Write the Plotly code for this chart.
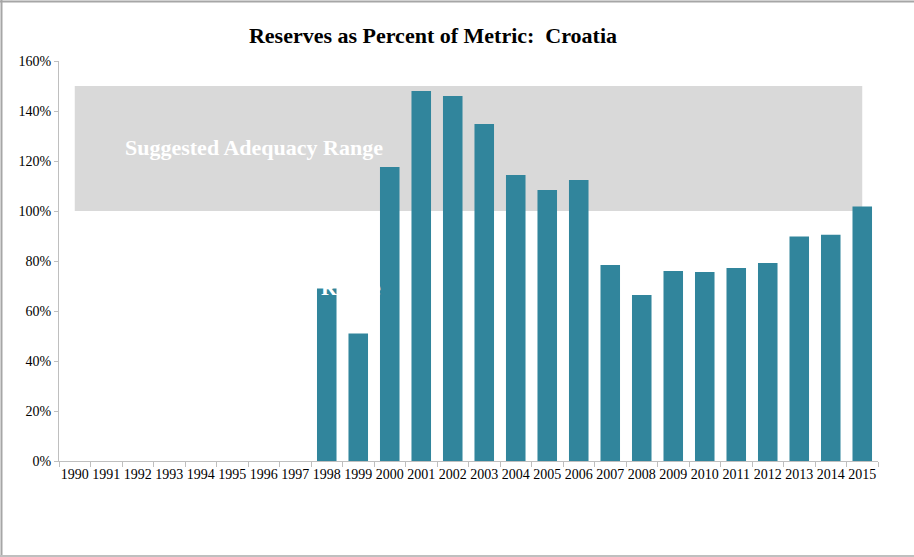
import plotly.graph_objects as go

years = [str(y) for y in range(1990, 2016)]
values = [None]*8 + [69, 51, 117.6, 148, 146, 134.8, 114.4, 108.4, 112.4,
                      78.4, 66.4, 76, 75.6, 77.2, 79.2, 89.8, 90.5, 101.8]
band_low = [100]*26
band_high = [150]*26
yticks = [0, 20, 40, 60, 80, 100, 120, 140, 160]
ytick_labels = [f"{v}%" for v in yticks]

W, H = 914, 557
L, R, T, B = 59, 36, 61, 96
pw, ph = W - L - R, H - T - B

def px(x):
    return (x - L) / pw

def py(y):
    return (H - B - y) / ph

fig = go.Figure()
fig.add_trace(go.Scatter(x=years, y=band_low, mode="lines", line=dict(width=0),
                         hoverinfo="skip", showlegend=False))
fig.add_trace(go.Scatter(x=years, y=band_high, mode="lines", line=dict(width=0),
                         fill="tonexty", fillcolor="#d9d9d9",
                         hoverinfo="skip", showlegend=False))
fig.add_trace(go.Bar(x=years, y=values, marker=dict(color="#31859c", line=dict(width=0)),
                     showlegend=False, xaxis="x2", yaxis="y2"))

serif = "Liberation Serif, Times New Roman, serif"
fig.update_layout(
    width=W, height=H,
    margin=dict(l=L, r=R, t=T, b=B),
    paper_bgcolor="white", plot_bgcolor="white",
    bargap=0.38,
    font=dict(family=serif, size=14, color="black"),
    title=dict(text="<b>Reserves as Percent of Metric:\u00a0 Croatia</b>",
               x=px(433), xref="paper", xanchor="center",
               y=1 - 35 / H, yanchor="middle",
               font=dict(family=serif, size=22, color="black")),
    xaxis=dict(type="category", showgrid=False, showline=True, linecolor="#bfbfbf",
               linewidth=1, ticks="outside", tickson="boundaries", ticklen=5,
               tickcolor="#bfbfbf", tickfont=dict(family=serif, size=14, color="black"),
               range=[-0.5, 25.5], tickangle=0),
    yaxis=dict(range=[0, 160], tickvals=yticks, ticktext=ytick_labels, showgrid=False,
               showline=True, linecolor="#bfbfbf", linewidth=1, ticks="outside",
               ticklen=4, tickcolor="#bfbfbf", zeroline=False,
               tickfont=dict(family=serif, size=14, color="black")),
    xaxis2=dict(type="category", overlaying="x", range=[-0.5, 25.5], visible=False,
                categoryorder="array", categoryarray=years),
    yaxis2=dict(overlaying="y", range=[0, 160], visible=False),
    annotations=[
        dict(text="<b>Suggested Adequacy Range</b>", xref="paper", yref="paper",
             x=px(254), y=py(147), xanchor="center", yanchor="middle", showarrow=False,
             font=dict(family=serif, size=22, color="white")),
        dict(text="<b>Range</b>", xref="paper", yref="paper",
             x=px(351), y=py(287), xanchor="center", yanchor="middle", showarrow=False,
             font=dict(family=serif, size=22, color="white")),
    ],
    shapes=[
        dict(type="line", xref="paper", yref="paper", x0=px(0), x1=px(914),
             y0=py(1.5), y1=py(1.5), line=dict(color="#a6a6a6", width=2)),
        dict(type="line", xref="paper", yref="paper", x0=px(1.5), x1=px(1.5),
             y0=py(0), y1=py(557), line=dict(color="#a6a6a6", width=2)),
        dict(type="line", xref="paper", yref="paper", x0=px(0), x1=px(914),
             y0=py(556), y1=py(556), line=dict(color="#bfbfbf", width=2)),
    ],
)

fig.write_html("out.html")
